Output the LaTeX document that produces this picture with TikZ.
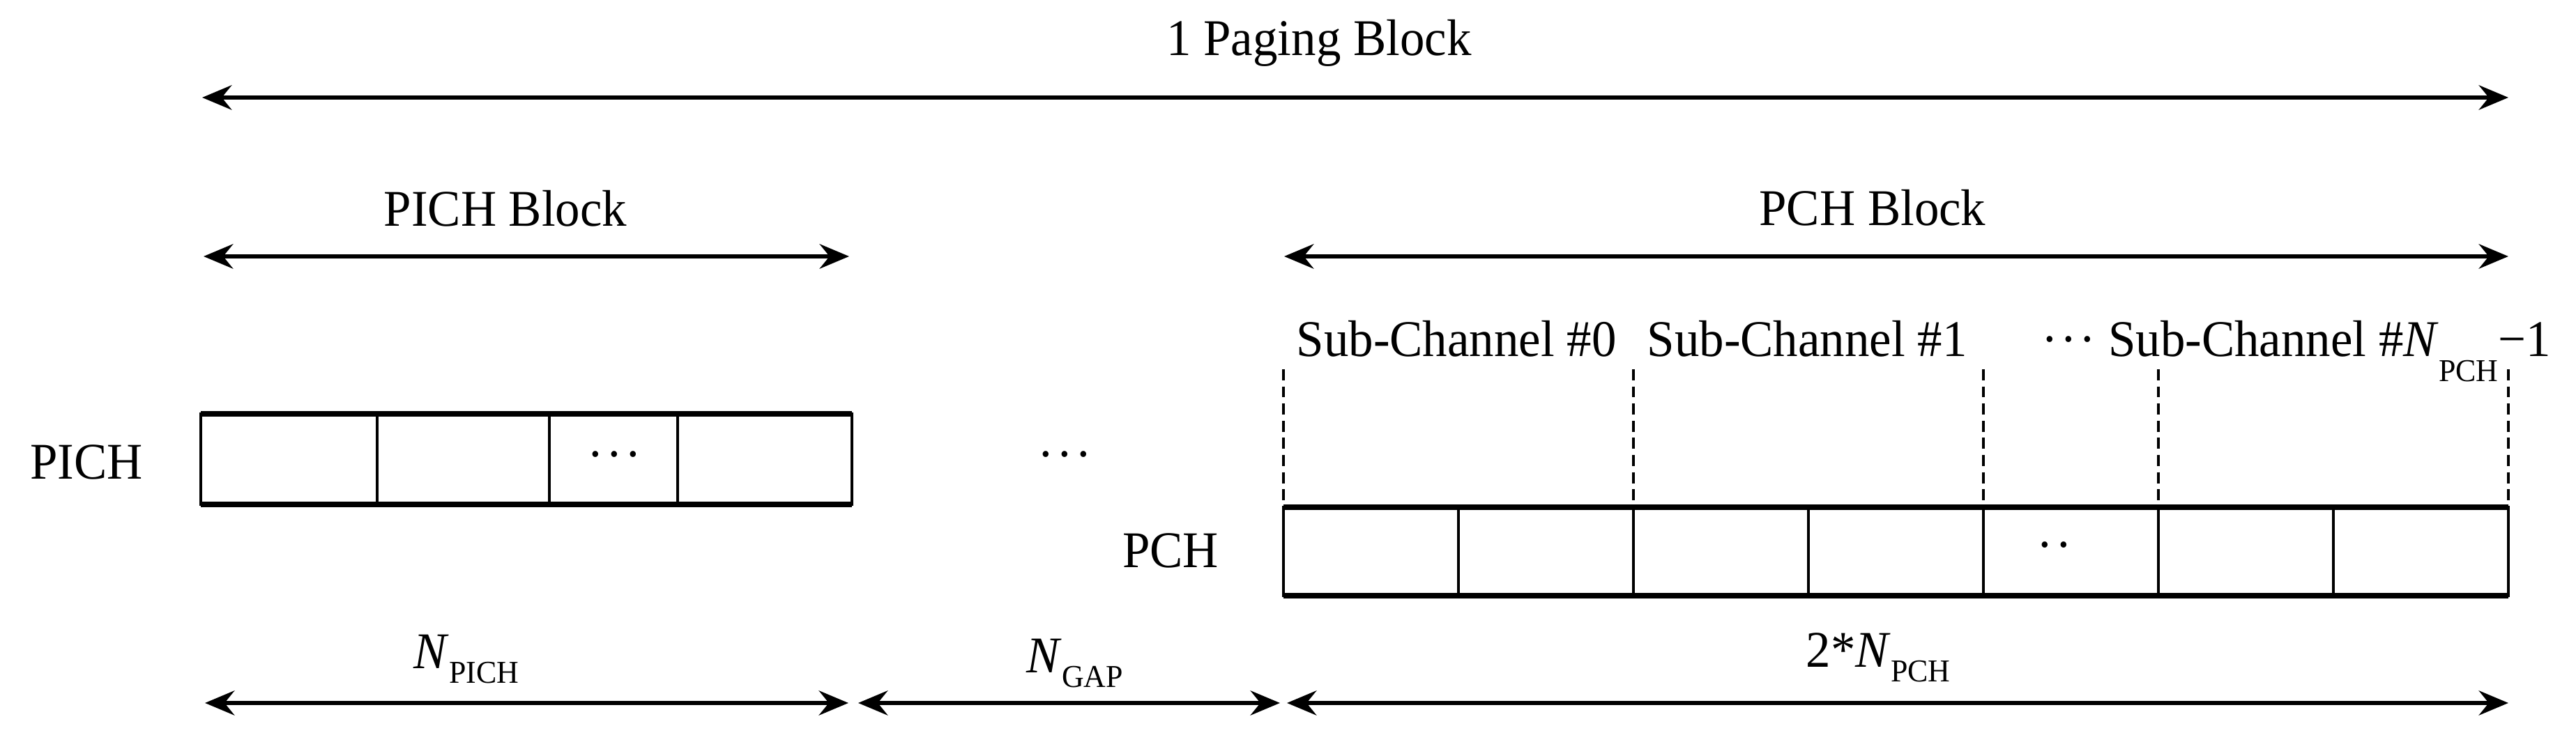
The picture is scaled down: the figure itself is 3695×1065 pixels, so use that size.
\documentclass[tikz,border=0pt]{standalone}
\usepackage{fontspec}
\setmainfont{Liberation Serif}[FakeStretch=0.96]
\usetikzlibrary{arrows.meta}
\newcommand{\mysub}[2][-5.7pt]{\raisebox{#1}{\fontsize{13}{13}\selectfont #2}}
\begin{document}
\begin{tikzpicture}[x=0.01cm,y=-0.01cm,
  lbl/.style={inner sep=0pt, font=\fontsize{21}{25}\selectfont},
  dim/.style={line width=1.8pt, {Stealth[length=12pt,width=10pt,inset=4pt]}-{Stealth[length=12pt,width=10pt,inset=4pt]}},
  cellh/.style={line width=2pt},
  cellv/.style={line width=1.1pt},
  sepline/.style={line width=1.1pt, dash pattern=on 4.5pt off 2.5pt}]
\useasboundingbox (0,0) rectangle (3695,1065);

% ---------- top dimension: 1 Paging Block
\coordinate (pgL) at (290,140);
\coordinate (pgR) at (3598,140);
\draw[dim] (pgL) -- (pgR);
\node[lbl, anchor=base] (pg) at (1892,80) {1 Paging Block};

% ---------- PICH Block / PCH Block
\coordinate (pibL) at (292,368);
\coordinate (pibR) at (1218,368);
\draw[dim] (pibL) -- (pibR);
\node[lbl, anchor=base] (pib) at (725,325) {PICH Block};

\coordinate (pcbL) at (1842,368);
\coordinate (pcbR) at (3598,368);
\draw[dim] (pcbL) -- (pcbR);
\node[lbl, anchor=base] (pcb) at (2686,324) {PCH Block};

% ---------- PICH row
\node[lbl, anchor=base] (pichlbl) at (124,688) {PICH};
\draw[cellv] (288,594) rectangle (1222,724);
\draw[cellh] (288,594) -- (1222,594) (288,724) -- (1222,724);
\foreach \x in {541,788,972} \draw[cellv] (\x,594) -- (\x,724);
\node[lbl] (pichdots) at (881,662) {·\kern1pt·\kern1pt·};

% ---------- gap dots
\node[lbl] (gapdots) at (1527,662) {·\kern1pt·\kern1pt·};

% ---------- PCH row
\node[lbl, anchor=base] (pchlbl) at (1679,815) {PCH};
\draw[cellv] (1841,728) rectangle (3598,855);
\draw[cellh] (1841,728) -- (3598,728) (1841,855) -- (3598,855);
\foreach \x in {2092,2343,2594,2845,3096,3347} \draw[cellv] (\x,728) -- (\x,855);
\node[lbl] (pchdots) at (2947,792) {·\kern1pt·};

% ---------- sub-channel separators
\foreach \x/\n in {1841/a,2343/b,2845/c,3096/d,3598/e} {
  \coordinate (s\n t) at (\x,530);
  \coordinate (s\n b) at (\x,728);
  \draw[sepline] (s\n t) -- (s\n b);
}
\node[lbl, anchor=base west] (sc0) at (1859,512) {Sub-Channel \#0};
\node[lbl, anchor=base west] (sc1) at (2362,512) {Sub-Channel \#1};
\node[lbl, anchor=base west] (scn) at (2928,512) {·\kern1pt·\kern1pt· Sub-Channel \#\textit{N}\mysub[-10pt]{PCH}−1};

% ---------- bottom dimensions
\coordinate (n1L) at (294,1009);
\coordinate (n1R) at (1217,1009);
\coordinate (n2L) at (1231,1009);
\coordinate (n2R) at (1836,1009);
\coordinate (n3L) at (1846,1009);
\coordinate (n3R) at (3598,1009);
\draw[dim] (n1L) -- (n1R);
\draw[dim] (n2L) -- (n2R);
\draw[dim] (n3L) -- (n3R);
\node[lbl, anchor=base west] (npich) at (593,960) {\textit{N}\mysub{PICH}};
\node[lbl, anchor=base west] (ngap) at (1472,966) {\textit{N}\mysub{GAP}};
\node[lbl, anchor=base west] (npch) at (2590,958) {2*\textit{N}\mysub{PCH}};
\end{tikzpicture}
\end{document}
